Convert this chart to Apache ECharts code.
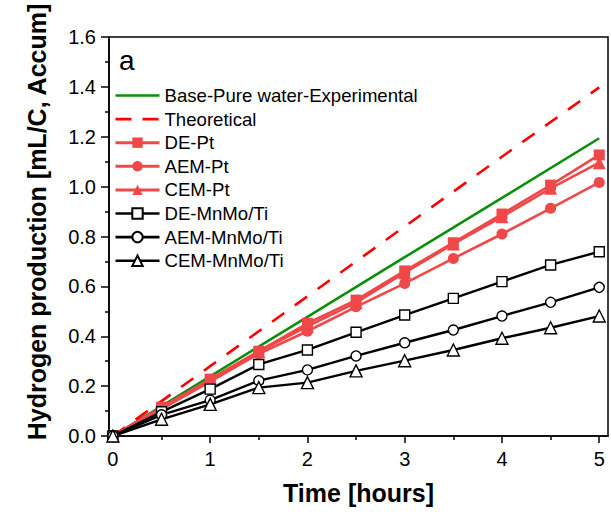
<!DOCTYPE html>
<html><head><meta charset="utf-8">
<script src="https://cdn.jsdelivr.net/npm/echarts@6/dist/echarts.min.js"></script>
<style>html,body{margin:0;padding:0;background:#fff}#c{width:611px;height:514px}</style>
</head><body><div id="c"></div>
<script>
// ---- data ----
const timeHours = [0, 0.5, 1, 1.5, 2, 2.5, 3, 3.5, 4, 4.5, 5];
const lineTimeHours = [0, 1, 2, 3, 4, 5];
const basePureWater = [0, 0.239, 0.478, 0.717, 0.955, 1.194];
const theoretical = [0, 0.28, 0.56, 0.84, 1.12, 1.398];
const dePt = [0, 0.115, 0.228, 0.340, 0.452, 0.545, 0.662, 0.775, 0.890, 1.006, 1.127];
const aemPt = [0, 0.108, 0.218, 0.330, 0.420, 0.518, 0.612, 0.712, 0.810, 0.913, 1.017];
const cemPt = [0, 0.114, 0.225, 0.338, 0.440, 0.535, 0.655, 0.770, 0.879, 0.993, 1.096];
const deMnMo = [0, 0.097, 0.188, 0.287, 0.345, 0.416, 0.485, 0.552, 0.619, 0.686, 0.739];
const aemMnMo = [0, 0.085, 0.144, 0.222, 0.265, 0.321, 0.374, 0.425, 0.481, 0.536, 0.596];
const cemMnMo = [0, 0.067, 0.127, 0.194, 0.214, 0.261, 0.302, 0.345, 0.392, 0.434, 0.481];
const seriesNames = ['Base-Pure water-Experimental', 'Theoretical', 'DE-Pt', 'AEM-Pt', 'CEM-Pt',
  'DE-MnMo/Ti', 'AEM-MnMo/Ti', 'CEM-MnMo/Ti'];
const xMajorTicks = [0, 1, 2, 3, 4, 5];
const xMinorTicks = [0.5, 1.5, 2.5, 3.5, 4.5];
const yTickLabels = ['0.0', '0.2', '0.4', '0.6', '0.8', '1.0', '1.2', '1.4', '1.6'];

// ---- chart ----
const FONT = 'Liberation Sans, Arial, sans-serif';
const PT_RED = '#f04848';
const GREEN = '#0a8f0a';
const THEO_RED = '#ff0000';
const DASH = [15, 13];
const pairs = (xs, ys) => xs.map((x, i) => [x, ys[i]]);

function ptSeries(name, values, symbol, size) {
  return {
    name, type: 'line', data: pairs(timeHours, values),
    symbol, symbolSize: size, color: PT_RED,
    lineStyle: { color: PT_RED, width: 2.6 },
    itemStyle: { color: PT_RED }
  };
}
function mnSeries(name, values, symbol, size) {
  return {
    name, type: 'line', data: pairs(timeHours, values),
    symbol, symbolSize: size, color: '#000',
    lineStyle: { color: '#000', width: 2.4 },
    itemStyle: { color: '#fff', borderColor: '#000', borderWidth: 1.4 }
  };
}

const legendData = seriesNames.map((n, i) => {
  if (i === 0) return { name: n, itemStyle: { opacity: 0 }, lineStyle: { color: GREEN, width: 2.6 } };
  if (i === 1) return { name: n, itemStyle: { opacity: 0 }, lineStyle: { color: THEO_RED, width: 2.6, type: [16, 11] } };
  if (i < 5) return { name: n, lineStyle: { color: PT_RED, width: 3 } };
  return { name: n, lineStyle: { color: '#000', width: 2.6 } };
});

const chart = echarts.init(document.getElementById('c'), null, { renderer: 'svg' });
chart.setOption({
  animation: false,
  backgroundColor: '#fff',
  textStyle: { fontFamily: FONT },
  title: {
    text: 'a', left: 119, top: 46, padding: 0,
    textStyle: { fontSize: 28, fontWeight: 'normal', color: '#000', fontFamily: FONT }
  },
  grid: {
    left: 109, right: 3, top: 37, bottom: 78,
    show: true, borderColor: '#000', borderWidth: 1.5,
    outerBoundsMode: 'none', containLabel: false
  },
  legend: {
    orient: 'vertical', left: 114, top: 86, padding: 0,
    itemWidth: 44, itemHeight: 13, itemGap: 4.6,
    textStyle: { fontSize: 18.6, color: '#000', lineHeight: 18, fontFamily: FONT },
    data: legendData
  },
  xAxis: [{
    type: 'value', min: -0.04, max: 5.09, position: 'bottom',
    axisLine: { show: true, onZero: false, lineStyle: { color: '#000', width: 1.6 } },
    axisTick: { show: true, inside: false, length: 7, customValues: xMajorTicks,
      lineStyle: { color: '#000', width: 1.5 } },
    axisLabel: { customValues: xMajorTicks, fontSize: 20, color: '#000', margin: 13, fontFamily: FONT },
    splitLine: { show: false },
    name: 'Time [hours]', nameLocation: 'middle', nameGap: 44,
    nameTextStyle: { fontSize: 25, fontWeight: 'bold', color: '#000', fontFamily: FONT }
  }, {
    type: 'value', min: -0.04, max: 5.09, position: 'bottom',
    axisLine: { show: false },
    axisTick: { show: true, inside: false, length: 4, customValues: xMinorTicks,
      lineStyle: { color: '#000', width: 1.5 } },
    axisLabel: { show: false },
    splitLine: { show: false }
  }],
  yAxis: {
    type: 'value', min: 0, max: 1.6, interval: 0.2,
    axisLine: { show: true, onZero: false, lineStyle: { color: '#000', width: 1.6 } },
    axisTick: { show: true, inside: false, length: 8, lineStyle: { color: '#000', width: 1.5 } },
    minorTick: { show: true, splitNumber: 2, length: 4, lineStyle: { color: '#000', width: 1.5 } },
    axisLabel: { fontSize: 20, color: '#000', margin: 13, fontFamily: FONT,
      formatter: v => yTickLabels[Math.round(v / 0.2)] },
    splitLine: { show: false }
  },
  graphic: [{
    type: 'text', x: 37, y: 222, rotation: Math.PI / 2,
    style: {
      text: 'Hydrogen production [mL/C, Accum]',
      fontSize: 25, fontWeight: 'bold', fill: '#000', fontFamily: FONT,
      textAlign: 'center', textVerticalAlign: 'middle'
    }
  }],
  series: [
    { name: seriesNames[0], type: 'line', data: pairs(lineTimeHours, basePureWater),
      showSymbol: false, symbol: 'none', color: GREEN,
      lineStyle: { color: GREEN, width: 2.6 } },
    { name: seriesNames[1], type: 'line', data: pairs(lineTimeHours, theoretical),
      showSymbol: false, symbol: 'none', color: THEO_RED,
      lineStyle: { color: THEO_RED, width: 2.6, type: DASH } },
    ptSeries(seriesNames[2], dePt, 'rect', 11),
    ptSeries(seriesNames[3], aemPt, 'circle', 11),
    ptSeries(seriesNames[4], cemPt, 'triangle', 13),
    mnSeries(seriesNames[5], deMnMo, 'rect', 10),
    mnSeries(seriesNames[6], aemMnMo, 'circle', 10),
    mnSeries(seriesNames[7], cemMnMo, 'triangle', 12)
  ]
});
</script>
</body></html>
